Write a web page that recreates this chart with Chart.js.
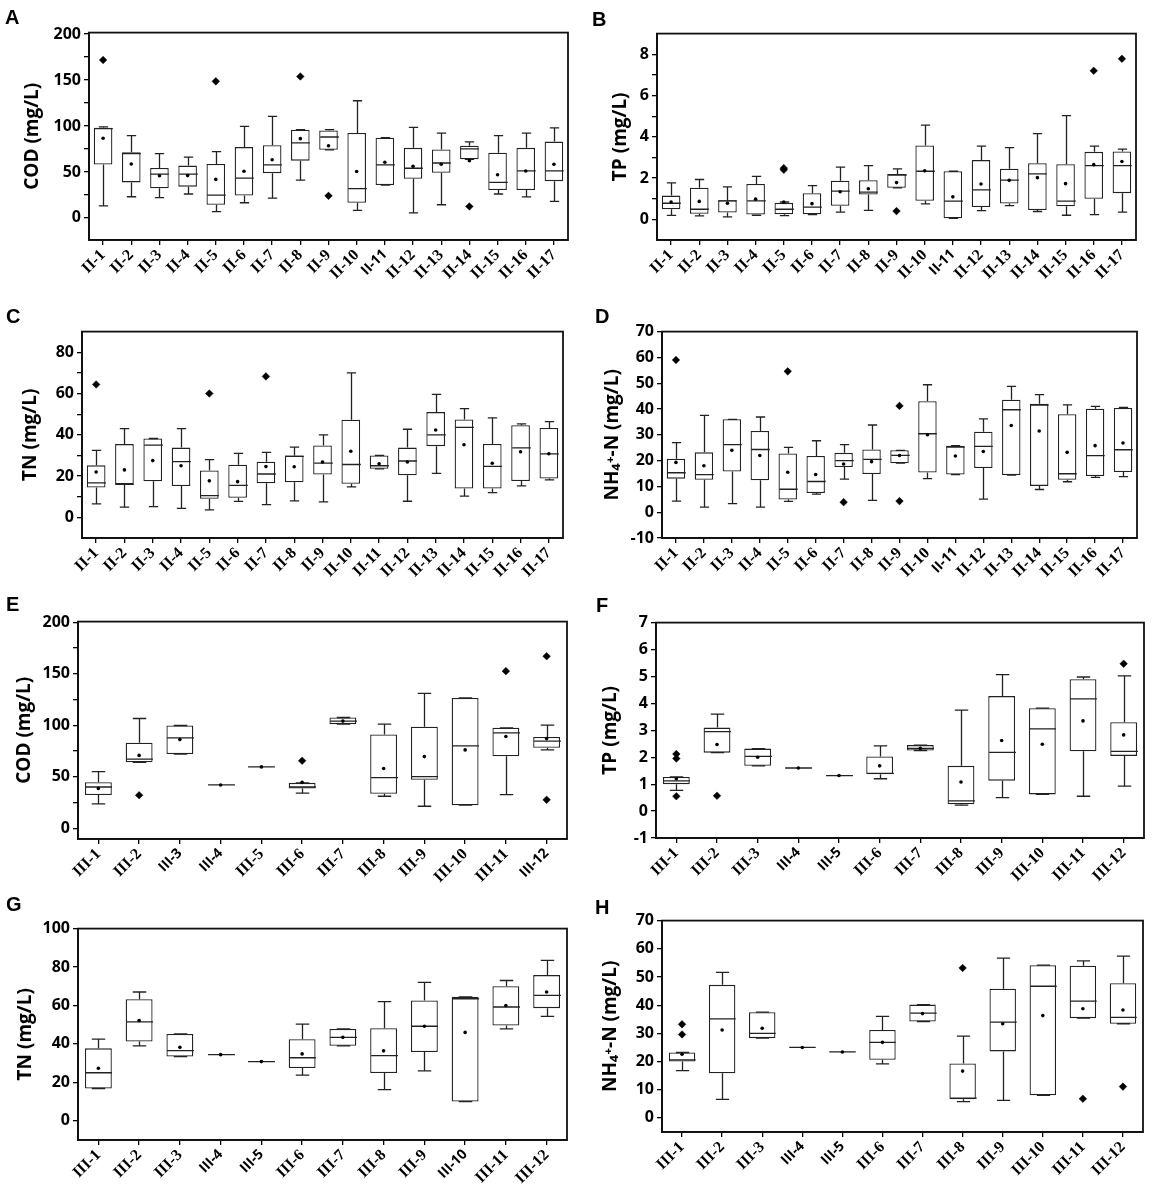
<!DOCTYPE html>
<html><head><meta charset="utf-8">
<script src="https://cdn.jsdelivr.net/npm/chart.js@4.4.0/dist/chart.umd.min.js"></script>
<style>
html,body{margin:0;padding:0;background:#fff;}
#page{position:relative;width:1170px;height:1193px;overflow:hidden;background:#fff;}
#page canvas{position:absolute;}
.lbl{position:absolute;font:bold 20px "Liberation Sans",Arial,sans-serif;color:#000;line-height:1;}
</style></head><body><div id="page"></div>
<script>
// ---------- categories ----------
const catII = ['II-1','II-2','II-3','II-4','II-5','II-6','II-7','II-8','II-9','II-10','II-11','II-12','II-13','II-14','II-15','II-16','II-17'];
const catIII = ['III-1','III-2','III-3','III-4','III-5','III-6','III-7','III-8','III-9','III-10','III-11','III-12'];

// ---------- Panel A : COD (II) ----------
const A_min  = [13,23,22,26,6.8,16.5,21.5,41,74,8.2,35.8,5.4,14.3,63.7,26,22.9,17.9];
const A_q1   = [58,38.6,32.2,34,14.3,24.3,48.7,62.3,74,16.5,35.8,42.6,49,63.7,30.4,30.4,40];
const A_med  = [97,70,47.6,47.6,24.7,43.3,57.6,81.6,88,31.8,57.6,54,59.7,75.1,38.6,51.2,51.2];
const A_q3   = [98,71.5,54.4,56.9,58.7,77,79,96,95,92.3,87.3,76.2,74.4,78.4,70.8,76.2,83];
const A_max  = [99,89.4,70,66,72,99.5,110.5,96,96,127.4,87.3,98.4,92.3,82.6,89.4,92.3,98];
const A_mean = [86.6,58.7,45.8,46,41.9,50.8,63.3,86.2,78.4,50.4,60.5,56.2,58.3,62.3,46.9,51,58.3];
const A_out  = [[0,171.7],[4,148.5],[7,153.8],[8,24],[13,12.5]];
const A_major = [0,50,100,150,200];
const A_minor = [25,75,125,175];

// ---------- Panel B : TP (II) ----------
const B_min  = [0.19,0.17,0.12,0.2,0.18,0.23,0.35,0.44,1.53,0.75,0.05,0.42,0.67,0.38,0.2,0.23,0.35];
const B_q1   = [0.49,0.27,0.33,0.23,0.25,0.25,0.66,1.2,1.53,0.9,0.05,0.6,0.77,0.45,0.63,1.0,1.27];
const B_med  = [0.78,0.49,0.9,0.9,0.49,0.59,1.37,1.32,2.15,2.33,0.88,1.43,1.9,2.2,0.88,2.6,2.6];
const B_q3   = [1.15,1.53,0.93,1.71,0.8,1.27,1.87,1.9,2.2,3.58,2.33,2.87,2.45,2.72,2.67,3.27,3.29];
const B_max  = [1.77,1.93,1.57,2.08,0.84,1.63,2.53,2.6,2.45,4.57,2.33,3.55,3.48,4.15,5.03,3.55,3.4];
const B_mean = [0.84,0.87,0.78,0.98,0.84,0.76,1.34,1.48,1.78,2.35,1.09,1.71,1.89,2.02,1.73,2.65,2.8];
const B_out  = [[4,2.4],[4,2.48],[8,0.4],[15,7.2],[16,7.78]];
const B_major = [0,2,4,6,8];
const B_minor = [1,3,5,7];

// ---------- Panel C : TN (II) ----------
const C_min  = [6.5,5,5.2,4.4,3.6,7.7,6.2,8,7.5,14.8,23.5,7.8,21.3,10.3,12,15.3,18.2];
const C_q1   = [14.5,16,17.5,15.2,9,9.5,16.5,17,20.8,16.3,23.5,20.4,34.5,14,14,17.6,18.8];
const C_med  = [16.7,16,35,27,10.5,15.5,21,29.5,26.3,25.6,25,27.3,40,43.6,24.7,33.7,30.8];
const C_q3   = [25.2,35.5,38.2,33.8,22.7,25.5,27,30,34.8,47.3,30,33.8,51,47.4,35.6,44.6,43.3];
const C_max  = [32.5,43,38.2,43,28,31,31.5,34,40,70,30,42.7,59.6,52.7,48.2,45.3,46.4];
const C_mean = [22,23,27.5,25,17.7,17.3,24.6,24.5,26.8,32,26,26.8,42.3,35.2,26.2,31.8,30.8];
const C_out  = [[0,64.4],[4,60],[6,68.3]];
const C_major = [0,20,40,60,80];
const C_minor = [10,30,50,70];

// ---------- Panel D : NH4+-N (II) ----------
const D_min  = [4.3,2,3.3,2,4.2,7,12.8,4.6,19,13,14.6,5.1,14.4,8.8,11.8,13.5,13.8];
const D_q1   = [13,12.6,15.8,12.4,4.9,7.4,17.5,14.8,19,15.4,14.6,17.1,14.4,10.2,12.6,14,15.6];
const D_med  = [15.3,14.6,26.2,24.3,8.9,11.9,20,20.5,22,30.4,25.2,25.5,39.7,41.5,14.9,21.9,24.2];
const D_q3   = [20.7,23.2,36,31.5,22.8,21.8,23,24.3,24,43,25.8,31.2,43.6,42,38,40.1,40.4];
const D_max  = [27,37.5,36,36.9,25.1,27.7,26.2,33.8,24,49.4,25.8,36.2,48.8,45.6,41.6,41,40.6];
const D_mean = [19.3,18,24,22,15.5,14.6,18.7,19.6,22,30,21.8,23.5,33.6,31.5,23.2,25.8,26.8];
const D_out  = [[0,59],[4,54.6],[6,3.9],[8,41.2],[8,4.3]];
const D_major = [-10,0,10,20,30,40,50,60,70];
const D_minor = [-5,5,15,25,35,45,55,65];

// ---------- Panel E : COD (III) ----------
const E_min  = [23.6,64,72,42,59.5,34,101,31,21.3,22.3,32.5,76];
const E_q1   = [32.2,64,72,42,59.5,38.5,101,33.5,47,22.3,69.8,78];
const E_med  = [40,67,87.6,42,59.5,40,104,49,50,80,92.5,84.5];
const E_q3   = [44.6,83,99.7,42,59.5,44,107.5,91,98.5,126.4,97.5,88.5];
const E_max  = [55,106.5,99.7,42,59.5,44,107.5,101,131,126.4,97.5,100];
const E_mean = [38.5,70.7,86,42,59.5,44.5,104,58,69.5,76,89,87];
const E_out  = [[1,32],[5,65.5],[10,152.5],[11,167],[11,27.5]];
const E_major = [0,50,100,150,200];
const E_minor = [25,75,125,175];

// ---------- Panel F : TP (III) ----------
const F_min  = [0.77,2.17,1.68,1.6,1.32,1.2,2.25,0.22,0.5,0.62,0.55,0.93];
const F_q1   = [1.0,2.17,1.68,1.6,1.32,1.37,2.25,0.25,1.13,0.62,2.22,2.05];
const F_med  = [1.12,2.95,2.03,1.6,1.32,1.4,2.33,0.38,2.18,3.05,4.17,2.22];
const F_q3   = [1.27,3.1,2.32,1.6,1.32,2.03,2.45,1.68,4.27,3.82,4.9,3.3];
const F_max  = [1.27,3.6,2.32,1.6,1.32,2.42,2.45,3.75,5.07,3.82,4.98,5.02];
const F_mean = [1.2,2.47,2.0,1.6,1.32,1.68,2.33,1.08,2.62,2.48,3.35,2.83];
const F_out  = [[0,0.55],[0,1.95],[0,2.12],[1,0.57],[11,5.47]];
const F_major = [-1,0,1,2,3,4,5,6,7];
const F_minor = [-0.5,0.5,1.5,2.5,3.5,4.5,5.5,6.5];

// ---------- Panel G : TN (III) ----------
const G_min  = [16.8,39,33.4,34.4,30.8,23.8,39,16.2,26,10,47.8,54.3];
const G_q1   = [16.8,41.2,33.4,34.4,30.8,27.5,39,24.8,35.8,10,49.6,58.6];
const G_med  = [25,51.5,36.5,34.4,30.8,32.8,43.4,33.9,49.2,63.5,59.2,65.3];
const G_q3   = [37.7,63.2,45.2,34.4,30.8,42.4,47.8,48.2,62.6,64.5,70,75.8];
const G_max  = [42.5,67,45.2,34.4,30.8,50.3,47.8,62,72,64.5,73,83.5];
const G_mean = [27.3,52.2,38.2,34.4,30.8,34.8,43.4,36.4,49.2,46,60,67];
const G_out  = [];
const G_major = [0,20,40,60,80,100];
const G_minor = [10,30,50,70,90];

// ---------- Panel H : NH4+-N (III) ----------
const H_min  = [16.8,6.6,28.3,25,23.4,19.2,34.2,5.8,6.2,8,35.4,33.4];
const H_q1   = [20,15.8,28.3,25,23.4,20.6,34.2,6.6,23.6,8,35.4,33.4];
const H_med  = [20.6,35.1,30,25,23.4,26.8,37.2,7.0,34,46.7,41.4,35.7];
const H_q3   = [23.2,47.2,37.5,25,23.4,31.2,40.2,19.3,45.8,54.2,54,47.8];
const H_max  = [23.2,51.6,37.5,25,23.4,36,40.2,29,56.7,54.2,55.7,57.4];
const H_mean = [22.6,31.2,31.8,25,23.4,26.8,37,16.6,33.4,36.3,38.7,38.3];
const H_out  = [[0,29.6],[0,33.2],[7,53.2],[10,6.8],[11,11.1]];
const H_major = [0,10,20,30,40,50,60,70];
const H_minor = [5,15,25,35,45,55,65];

// ---------- drawing helpers (layout / style only) ----------
const boxPlugin = {
  id: 'boxDraw',
  afterDatasetDraw(chart, args) {
    if (args.index !== 0) return;
    const st = chart.options.plugins.boxDraw;
    const y = chart.scales.y, ctx = chart.ctx;
    ctx.save();
    ctx.strokeStyle = '#222';
    ctx.lineWidth = 1.3;
    args.meta.data.forEach((bar, i) => {
      const x = Math.round(bar.x) + 0.5, w = bar.width, cap = w * 0.5;
      const pMin = y.getPixelForValue(st.min[i]), pQ1 = y.getPixelForValue(st.q1[i]);
      const pQ3 = y.getPixelForValue(st.q3[i]), pMax = y.getPixelForValue(st.max[i]);
      const pMed = y.getPixelForValue(st.med[i]);
      ctx.beginPath();
      ctx.moveTo(x, pQ3); ctx.lineTo(x, pMax);
      ctx.moveTo(x - cap / 2, pMax); ctx.lineTo(x + cap / 2, pMax);
      ctx.moveTo(x, pQ1); ctx.lineTo(x, pMin);
      ctx.moveTo(x - cap / 2, pMin); ctx.lineTo(x + cap / 2, pMin);
      ctx.moveTo(x - w / 2, pMed); ctx.lineTo(x + w / 2, pMed);
      ctx.stroke();
    });
    ctx.restore();
  },
  afterDraw(chart) {
    const a = chart.chartArea, ctx = chart.ctx;
    ctx.save();
    ctx.strokeStyle = '#111';
    ctx.lineWidth = 1.8;
    ctx.strokeRect(a.left, a.top, a.right - a.left, a.bottom - a.top);
    ctx.restore();
  }
};

const page = document.getElementById('page');
const serifFont = {family: '"Liberation Serif","Times New Roman",serif', weight: 'bold', size: 16};
const sansTickFont = {family: '"Open Sans",Arial,sans-serif', weight: 'bold', size: 14};

function makePanel(p) {
  const left = p.titleX - 15, top = p.frame.t - 10;
  const width = p.frame.r + 10 - left, height = p.frame.b + 46 - top;
  const yW = p.frame.l - left, xH = 46;
  const cv = document.createElement('canvas');
  cv.width = width; cv.height = height;
  cv.style.left = left + 'px'; cv.style.top = top + 'px';
  cv.style.width = width + 'px'; cv.style.height = height + 'px';
  page.appendChild(cv);
  const lbl = document.createElement('div');
  lbl.className = 'lbl'; lbl.textContent = p.letter;
  lbl.style.left = p.letterPos[0] + 'px'; lbl.style.top = p.letterPos[1] + 'px';
  page.appendChild(lbl);

  const st = p.stats;
  const tickVals = p.major.concat(p.minor).sort((a, b) => a - b);
  new Chart(cv, {
    type: 'bar',
    data: {
      labels: p.cats,
      datasets: [
        {type: 'bar', data: st.q1.map((v, i) => [v, st.q3[i]]), backgroundColor: '#fff',
         borderColor: '#222', borderWidth: 1.3, borderSkipped: false,
         barPercentage: 0.66, categoryPercentage: 1, order: 3},
        {type: 'line', data: st.mean, showLine: false, pointRadius: 1.8, pointHoverRadius: 1.8,
         pointBackgroundColor: '#000', pointBorderColor: '#000', pointBorderWidth: 0, order: 1},
        {type: 'line', data: p.out.map(o => ({x: p.cats[o[0]], y: o[1]})), showLine: false,
         pointStyle: 'rectRot', pointRadius: 3.8, pointBackgroundColor: '#000',
         pointBorderColor: '#000', pointBorderWidth: 0.5, order: 0}
      ]
    },
    options: {
      responsive: false, animation: false, devicePixelRatio: 1,
      layout: {padding: {top: 10, right: 10, left: 0, bottom: 0}},
      plugins: {legend: {display: false}, tooltip: {enabled: false}, boxDraw: st},
      scales: {
        x: {
          offset: true,
          grid: {display: true, drawOnChartArea: false, offset: false, tickLength: 5, color: '#000', lineWidth: 1.3},
          border: {display: true, color: '#000', width: 1.8},
          ticks: {autoSkip: false, maxRotation: 45, minRotation: 45, color: '#000', padding: 1,
                  font: (c) => (p.sans.includes(p.cats[c.index]) ? sansTickFont : serifFont)},
          afterFit: (s) => { s.height = xH; }
        },
        y: {
          min: p.yMin, max: p.yMax,
          grid: {display: true, drawOnChartArea: false, tickLength: 5, color: '#000', lineWidth: 1.3},
          border: {display: true, color: '#000', width: 1.8},
          afterBuildTicks: (s) => { s.ticks = tickVals.map(v => ({value: v})); },
          ticks: {color: '#000', padding: 3,
                  font: {family: '"Open Sans",Arial,sans-serif', weight: 'bold', size: 16},
                  callback: (v) => (p.major.includes(v) ? String(v) : '')},
          title: {display: true, text: p.yTitle, color: '#000', padding: {top: 4, bottom: 4},
                  font: {family: '"Open Sans",Arial,sans-serif', weight: 'bold', size: 19}},
          afterFit: (s) => { s.width = yW; }
        }
      }
    },
    plugins: [boxPlugin]
  });
}

const NH = 'NH\u2084\u207A-N (mg/L)';
makePanel({letter: 'A', letterPos: [5, 7], titleX: 32, frame: {l: 89, r: 568, t: 30, b: 240},
  yMin: -24, yMax: 201.5, yTitle: 'COD (mg/L)', cats: catII, sans: ['II-11'],
  stats: {min: A_min, q1: A_q1, med: A_med, q3: A_q3, max: A_max, mean: A_mean}, out: A_out, major: A_major, minor: A_minor});
makePanel({letter: 'B', letterPos: [592, 9], titleX: 620, frame: {l: 657, r: 1136, t: 31, b: 240},
  yMin: -1, yMax: 9, yTitle: 'TP (mg/L)', cats: catII, sans: ['II-11'],
  stats: {min: B_min, q1: B_q1, med: B_med, q3: B_q3, max: B_max, mean: B_mean}, out: B_out, major: B_major, minor: B_minor});
makePanel({letter: 'C', letterPos: [6, 306], titleX: 30, frame: {l: 82, r: 563, t: 329, b: 538},
  yMin: -10, yMax: 90, yTitle: 'TN (mg/L)', cats: catII, sans: [],
  stats: {min: C_min, q1: C_q1, med: C_med, q3: C_q3, max: C_max, mean: C_mean}, out: C_out, major: C_major, minor: C_minor});
makePanel({letter: 'D', letterPos: [595, 306], titleX: 612, frame: {l: 662, r: 1137, t: 329, b: 538},
  yMin: -10, yMax: 70, yTitle: NH, cats: catII, sans: ['II-11'],
  stats: {min: D_min, q1: D_q1, med: D_med, q3: D_q3, max: D_max, mean: D_mean}, out: D_out, major: D_major, minor: D_minor});
makePanel({letter: 'E', letterPos: [6, 594], titleX: 24, frame: {l: 78, r: 567, t: 619, b: 839},
  yMin: -10.5, yMax: 200.6, yTitle: 'COD (mg/L)', cats: catIII, sans: ['III-3', 'III-4', 'III-12'],
  stats: {min: E_min, q1: E_q1, med: E_med, q3: E_q3, max: E_max, mean: E_mean}, out: E_out, major: E_major, minor: E_minor});
makePanel({letter: 'F', letterPos: [596, 595], titleX: 610, frame: {l: 656, r: 1144, t: 620, b: 838},
  yMin: -1, yMax: 7, yTitle: 'TP (mg/L)', cats: catIII, sans: ['III-4', 'III-5'],
  stats: {min: F_min, q1: F_q1, med: F_med, q3: F_q3, max: F_max, mean: F_mean}, out: F_out, major: F_major, minor: F_minor});
makePanel({letter: 'G', letterPos: [6, 894], titleX: 25, frame: {l: 78, r: 567, t: 926, b: 1140},
  yMin: -10, yMax: 100, yTitle: 'TN (mg/L)', cats: catIII, sans: ['III-4', 'III-5', 'III-10'],
  stats: {min: G_min, q1: G_q1, med: G_med, q3: G_q3, max: G_max, mean: G_mean}, out: G_out, major: G_major, minor: G_minor});
makePanel({letter: 'H', letterPos: [595, 897], titleX: 610, frame: {l: 662, r: 1143, t: 918, b: 1132},
  yMin: -5, yMax: 70, yTitle: NH, cats: catIII, sans: ['III-4', 'III-5'],
  stats: {min: H_min, q1: H_q1, med: H_med, q3: H_q3, max: H_max, mean: H_mean}, out: H_out, major: H_major, minor: H_minor});
</script>
</body></html>
